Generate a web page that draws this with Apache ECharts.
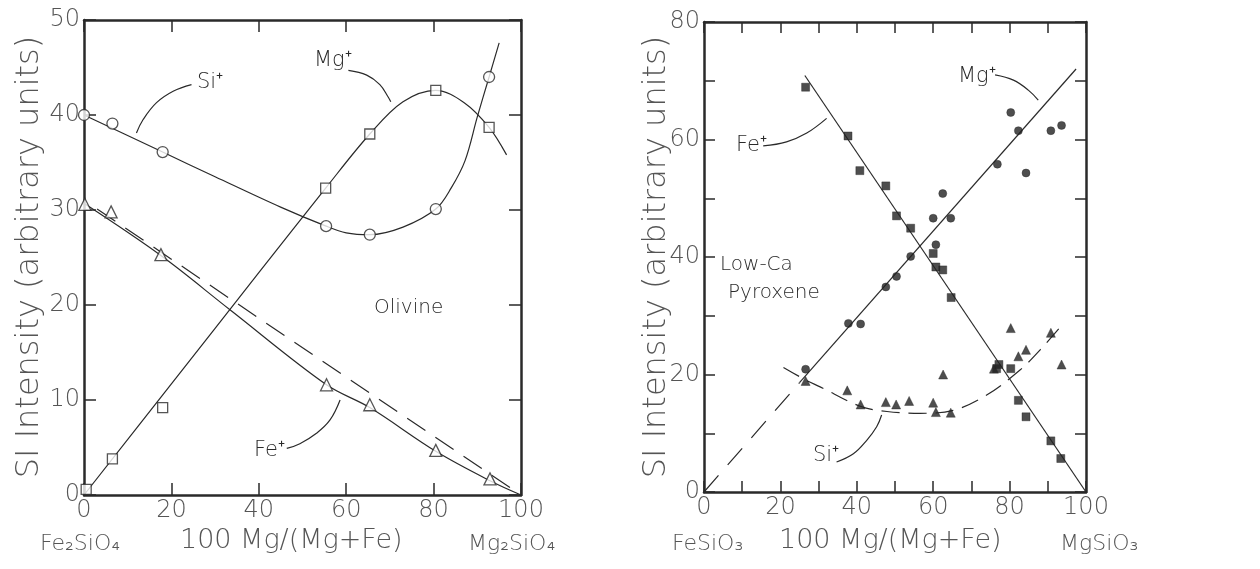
<!DOCTYPE html>
<html><head><meta charset="utf-8">
<script src="https://cdn.jsdelivr.net/npm/echarts@6/dist/echarts.min.js"></script>
<style>html,body{margin:0;padding:0;background:#fff}#c{width:1260px;height:569px}</style>
</head><body><div id="c"></div>
<script>
// ---------- Olivine (left panel) measured points ----------
const olivineSiX = [0, 6.5, 18, 55.4, 65.4, 80.5, 92.7];
const olivineSiY = [40, 39.1, 36.1, 28.3, 27.4, 30.1, 44.0];
const olivineMgX = [0.5, 6.5, 18, 55.3, 65.4, 80.5, 92.7];
const olivineMgY = [0.6, 3.8, 9.2, 32.3, 38.0, 42.6, 38.7];
const olivineFeX = [0.2, 6.2, 17.6, 55.5, 65.4, 80.5, 92.9];
const olivineFeY = [30.6, 29.8, 25.3, 11.6, 9.5, 4.7, 1.7];
// fitted curves as drawn in the figure
const olivineSiCurveX = [0, 18, 30, 45, 55.4, 60, 65.4, 73, 80.5, 84, 87.2, 90, 92.7, 95];
const olivineSiCurveY = [40, 36.1, 33.5, 30.3, 28.3, 27.6, 27.4, 28.2, 30.1, 32.3, 35.2, 39.8, 44.0, 47.6];
const olivineMgCurveX = [0, 20, 40, 55.3, 65.4, 73, 80.5, 87, 92.7, 96.7];
const olivineMgCurveY = [0, 11.7, 23.4, 32.3, 38.0, 41.4, 42.6, 41.3, 38.7, 35.8];
const olivineFeCurveX = [0, 17.6, 33.4, 55.5, 65.4, 80.5, 92.9, 100];
const olivineFeCurveY = [30.7, 25.2, 19.5, 11.6, 9.2, 4.6, 1.5, 0];
const olivineFeDashX = [3, 100];
const olivineFeDashY = [30.1, 0];

// ---------- Low-Ca pyroxene (right panel) measured points ----------
const pyxFeX = [26.6, 37.7, 40.8, 47.6, 50.4, 54.1, 60.0, 60.7, 62.5, 64.7, 76.6, 77.2, 80.3, 82.3, 84.3, 90.8, 93.4];
const pyxFeY = [68.9, 60.6, 54.7, 52.1, 47.0, 44.9, 40.6, 38.3, 37.8, 33.1, 21.0, 21.7, 21.0, 15.6, 12.8, 8.7, 5.7];
const pyxMgX = [26.6, 37.8, 41.0, 47.6, 50.4, 54.1, 60.0, 60.7, 62.5, 64.6, 76.8, 80.3, 82.3, 84.3, 90.8, 93.6];
const pyxMgY = [20.9, 28.7, 28.6, 34.9, 36.7, 40.1, 46.6, 42.1, 50.8, 46.6, 55.8, 64.6, 61.5, 54.3, 61.5, 62.4];
const pyxSiX = [26.6, 37.5, 41.0, 47.6, 50.3, 53.7, 60.0, 60.7, 62.6, 64.6, 75.9, 80.3, 82.3, 84.3, 90.8, 93.6];
const pyxSiY = [18.9, 17.3, 14.9, 15.3, 14.9, 15.5, 15.2, 13.6, 20.0, 13.5, 21.0, 27.9, 23.1, 24.2, 27.1, 21.7];
// fitted lines as drawn
const pyxFeLineX = [26.4, 100];
const pyxFeLineY = [70.9, 0];
const pyxMgLineX = [25, 97.4];
const pyxMgLineY = [18.6, 72.0];
const pyxMgDashX = [0, 25];
const pyxMgDashY = [0, 18.6];
const pyxSiCurveX = [20.8, 26.8, 30.4, 40.9, 47.9, 56.6, 65.3, 74, 82.8, 88, 94.1];
const pyxSiCurveY = [21.2, 19.0, 17.9, 14.6, 13.7, 13.4, 13.9, 16.5, 20.8, 24.2, 28.7];

// ---------- label leader curves (data units) ----------
const leadSiLX = [24.6, 20.4, 16.6, 13.5, 12.0], leadSiLY = [43.2, 42.5, 41.3, 39.5, 38.1];
const leadMgLX = [60.5, 64.7, 67.7, 69.6, 70.2], leadMgLY = [44.7, 44.2, 43.2, 41.9, 41.4];
const leadFeLX = [46.4, 49.4, 53.2, 56.3, 58.6], leadFeLY = [4.9, 5.4, 6.5, 7.9, 10.0];
const leadFeRX = [15.5, 21.6, 26.9, 32.1], leadFeRY = [58.9, 59.6, 61.1, 63.6];
const leadMgRX = [76.2, 81.0, 84.9, 87.5], leadMgRY = [71.0, 70.1, 68.4, 66.7];
const leadSiRX = [34.7, 39.1, 42.6, 45.2, 46.5], leadSiRY = [5.1, 6.5, 8.8, 11.1, 13.1];

const xTicksLeft = [0, 20, 40, 60, 80, 100];
const yTicksLeft = [0, 10, 20, 30, 40, 50];
const yTicksRight = [0, 20, 40, 60, 80];

const zip = (xs, ys) => xs.map((x, i) => [x, ys[i]]);
const FONT = "'DejaVu Sans', sans-serif";
const INK = '#2a2a2a';
const LABEL = '#555';
const YNAME = 'SI Intensity (arbitrary units)';

const chart = echarts.init(document.getElementById('c'), null, {renderer: 'canvas'});

function axisBase(extra) {
  return Object.assign({
    type: 'value',
    splitLine: {show: false},
    axisLine: {show: true, onZero: false, lineStyle: {color: INK, width: 2.5}},
    axisTick: {show: true, inside: true, length: 12, lineStyle: {color: INK, width: 1.5}},
    axisLabel: {show: true, color: LABEL, fontFamily: FONT, fontWeight: 200, fontSize: 24, margin: 6},
  }, extra);
}
function noLabel(o) { o.axisLabel = Object.assign({}, o.axisLabel, {show: false}); return o; }

const rightXLabel = v => (v % 20 === 0 ? String(v) : '');

const option = {
  animation: false,
  backgroundColor: '#fff',
  grid: [
    {left: 84, top: 20, width: 437, height: 475},
    {left: 704, top: 22, width: 382, height: 470}
  ],
  xAxis: [
    axisBase({gridIndex: 0, position: 'bottom', min: 0, max: 100, interval: 20,
      axisLabel: {color: LABEL, fontFamily: FONT, fontWeight: 200, fontSize: 24, margin: 4,
        formatter: v => (xTicksLeft.includes(v) ? String(v) : '')}}),
    noLabel(axisBase({gridIndex: 0, position: 'top', min: 0, max: 100, interval: 20})),
    axisBase({gridIndex: 1, position: 'bottom', min: 0, max: 100, interval: 10,
      axisTick: {show: true, inside: true, length: 11, lineStyle: {color: INK, width: 1.5}},
      axisLabel: {color: LABEL, fontFamily: FONT, fontWeight: 200, fontSize: 24, margin: 4, formatter: rightXLabel}}),
    noLabel(axisBase({gridIndex: 1, position: 'top', min: 0, max: 100, interval: 10,
      axisTick: {show: true, inside: true, length: 11, lineStyle: {color: INK, width: 1.5}}}))
  ],
  yAxis: [
    axisBase({gridIndex: 0, position: 'left', min: 0, max: 50, interval: 10,
      axisLabel: {color: LABEL, fontFamily: FONT, fontWeight: 200, fontSize: 24, margin: 4,
        formatter: v => (yTicksLeft.includes(v) ? String(v) : '')}}),
    noLabel(axisBase({gridIndex: 0, position: 'right', min: 0, max: 50, interval: 10})),
    axisBase({gridIndex: 1, position: 'left', min: 0, max: 80, interval: 10,
      axisTick: {show: true, inside: true, length: 11, lineStyle: {color: INK, width: 1.5}},
      axisLabel: {color: LABEL, fontFamily: FONT, fontWeight: 200, fontSize: 24, margin: 4,
        formatter: v => (yTicksRight.includes(v) ? String(v) : '')}}),
    noLabel(axisBase({gridIndex: 1, position: 'right', min: 0, max: 80, interval: 10,
      axisTick: {show: true, inside: true, length: 11, lineStyle: {color: INK, width: 1.5}}}))
  ],
  graphic: [
    {type: 'text', x: 30, y: 257, rotation: Math.PI / 2,
      style: {text: YNAME, fill: LABEL, font: '200 32px ' + FONT, align: 'center', verticalAlign: 'middle'}},
    {type: 'text', x: 657, y: 257, rotation: Math.PI / 2,
      style: {text: YNAME, fill: LABEL, font: '200 32px ' + FONT, align: 'center', verticalAlign: 'middle'}},
    {type: 'text', left: 40, top: 533, style: {text: 'Fe₂SiO₄', fill: LABEL, font: '200 22px ' + FONT}},
    {type: 'text', left: 468, top: 533, style: {text: 'Mg₂SiO₄', fill: LABEL, font: '200 22px ' + FONT}},
    {type: 'text', left: 180, top: 527, style: {text: '100 Mg/(Mg+Fe)', fill: LABEL, font: '200 27px ' + FONT}},
    {type: 'text', left: 672, top: 533, style: {text: 'FeSiO₃', fill: LABEL, font: '200 22px ' + FONT}},
    {type: 'text', left: 1060, top: 533, style: {text: 'MgSiO₃', fill: LABEL, font: '200 22px ' + FONT}},
    {type: 'text', left: 779, top: 527, style: {text: '100 Mg/(Mg+Fe)', fill: LABEL, font: '200 27px ' + FONT}},
    // annotations
    {type: 'text', left: 197, top: 72, style: {text: 'Si⁺', fill: INK, font: '200 21px ' + FONT}},
    {type: 'text', left: 314, top: 50, style: {text: 'Mg⁺', fill: INK, font: '200 21px ' + FONT}},
    {type: 'text', left: 254, top: 440, style: {text: 'Fe⁺', fill: INK, font: '200 21px ' + FONT}},
    {type: 'text', left: 374, top: 298, style: {text: 'Olivine', fill: INK, font: '200 20px ' + FONT}},
    {type: 'text', left: 736, top: 135, style: {text: 'Fe⁺', fill: INK, font: '200 21px ' + FONT}},
    {type: 'text', left: 958, top: 66, style: {text: 'Mg⁺', fill: INK, font: '200 21px ' + FONT}},
    {type: 'text', left: 720, top: 255, style: {text: 'Low-Ca', fill: INK, font: '200 20px ' + FONT}},
    {type: 'text', left: 728, top: 283, style: {text: 'Pyroxene', fill: INK, font: '200 20px ' + FONT}},
    {type: 'text', left: 813, top: 445, style: {text: 'Si⁺', fill: INK, font: '200 21px ' + FONT}}
  ],
  series: []
};

function curve(data, xi, yi, dashed, smooth) {
  return {type: 'line', xAxisIndex: xi, yAxisIndex: yi, data: data, showSymbol: false, symbol: 'none',
    smooth: smooth === undefined ? 0.35 : smooth, silent: true, z: 2,
    lineStyle: {color: INK, width: 1.2, type: dashed || 'solid'}};
}
function marks(data, xi, yi, symbol, size, filled) {
  return {type: 'scatter', xAxisIndex: xi, yAxisIndex: yi, data: data, symbol: symbol, symbolSize: size, z: 4,
    itemStyle: filled ? {color: '#222', borderColor: '#222', borderWidth: 0.5}
                      : {color: '#fff', borderColor: INK, borderWidth: 1.3}};
}

option.series.push(
  curve(zip(olivineSiCurveX, olivineSiCurveY), 0, 0),
  curve(zip(olivineMgCurveX, olivineMgCurveY), 0, 0),
  curve(zip(olivineFeCurveX, olivineFeCurveY), 0, 0),
  curve(zip(olivineFeDashX, olivineFeDashY), 0, 0, [22, 12], false),
  curve(zip(leadSiLX, leadSiLY), 0, 0, 'solid', 0.4),
  curve(zip(leadMgLX, leadMgLY), 0, 0, 'solid', 0.4),
  curve(zip(leadFeLX, leadFeLY), 0, 0, 'solid', 0.4),
  marks(zip(olivineSiX, olivineSiY), 0, 0, 'circle', 11, false),
  marks(zip(olivineMgX, olivineMgY), 0, 0, 'rect', 10, false),
  marks(zip(olivineFeX, olivineFeY), 0, 0, 'triangle', 12, false),

  curve(zip(pyxFeLineX, pyxFeLineY), 2, 2, 'solid', false),
  curve(zip(pyxMgLineX, pyxMgLineY), 2, 2, 'solid', false),
  curve(zip(pyxMgDashX, pyxMgDashY), 2, 2, [22, 14], false),
  curve(zip(pyxSiCurveX, pyxSiCurveY), 2, 2, [18, 9], 0.35),
  curve(zip(leadFeRX, leadFeRY), 2, 2, 'solid', 0.4),
  curve(zip(leadMgRX, leadMgRY), 2, 2, 'solid', 0.4),
  curve(zip(leadSiRX, leadSiRY), 2, 2, 'solid', 0.4),
  marks(zip(pyxMgX, pyxMgY), 2, 2, 'circle', 8, true),
  marks(zip(pyxFeX, pyxFeY), 2, 2, 'rect', 8, true),
  marks(zip(pyxSiX, pyxSiY), 2, 2, 'triangle', 9, true)
);

chart.setOption(option);
</script></body></html>
